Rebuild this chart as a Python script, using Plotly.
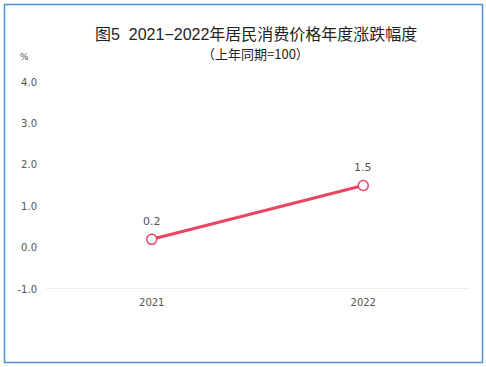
import plotly.graph_objects as go

years = ["2021", "2022"]
values = [0.2, 1.5]
value_labels = ["0.2", "1.5"]
y_ticks = [-1.0, 0.0, 1.0, 2.0, 3.0, 4.0]
y_tick_labels = ["-1.0", "0.0", "1.0", "2.0", "3.0", "4.0"]

W, H = 486, 367
L, R, T, B = 46, 17, 82, 78
pw, ph = W - L - R, H - T - B

def px_to_paper_x(px):
    return (px - L) / pw

def px_to_paper_y(py):
    return (H - B - py) / ph

fig = go.Figure()
fig.add_trace(go.Scatter(
    x=years, y=values, mode="lines+markers",
    line=dict(color="#ea4662", width=3),
    marker=dict(symbol="circle", size=10, color="white", line=dict(color="#ea4662", width=1.5)),
    cliponaxis=False, showlegend=False,
))

annotations = [
    dict(x=i, y=yv, xref="x", yref="y", text=t, showarrow=False, yshift=18,
         xanchor="center", yanchor="middle",
         font=dict(size=11, color="#555555", family="DejaVu Sans"))
    for i, (yv, t) in enumerate(zip(values, value_labels))
]
annotations += [
    dict(text="图5  2021−2022年居民消费价格年度涨跌幅度", xref="paper", yref="paper",
         x=px_to_paper_x(255.5), y=px_to_paper_y(34), xanchor="center", yanchor="middle",
         showarrow=False, font=dict(size=16, color="#222222", family="Liberation Sans, Noto Sans CJK SC")),
    dict(text="（上年同期=100）", xref="paper", yref="paper",
         x=px_to_paper_x(255), y=px_to_paper_y(53), xanchor="center", yanchor="middle",
         showarrow=False, font=dict(size=13, color="#222222", family="Noto Sans CJK SC")),
    dict(text="%", xref="paper", yref="paper",
         x=px_to_paper_x(24), y=px_to_paper_y(57), xanchor="center", yanchor="middle",
         showarrow=False, font=dict(size=9, color="#555555", family="DejaVu Sans")),
]

fig.update_layout(
    width=W, height=H,
    margin=dict(l=L, r=R, t=T, b=B),
    paper_bgcolor="white", plot_bgcolor="white",
    xaxis=dict(type="category", range=[-0.5, 1.5], showgrid=False, zeroline=False,
               showline=False, ticks="", ticklabelstandoff=6,
               tickfont=dict(size=10, color="#555555", family="DejaVu Sans")),
    yaxis=dict(range=[-1, 4], tickvals=y_ticks, ticktext=y_tick_labels, showgrid=False,
               zeroline=False, showline=False, ticks="", ticklabelstandoff=8,
               tickfont=dict(size=10, color="#555555", family="DejaVu Sans")),
    shapes=[
        dict(type="line", xref="paper", yref="y", x0=0, x1=1, y0=-1, y1=-1,
             line=dict(color="#d9d9d9", width=1)),
        dict(type="rect", xref="paper", yref="paper",
             x0=px_to_paper_x(4.5), x1=px_to_paper_x(482.5),
             y0=px_to_paper_y(362.5), y1=px_to_paper_y(4.5),
             line=dict(color="#4a95dc", width=1.5), fillcolor="rgba(0,0,0,0)", layer="below"),
    ],
    annotations=annotations,
)

fig.write_html("out.html")
